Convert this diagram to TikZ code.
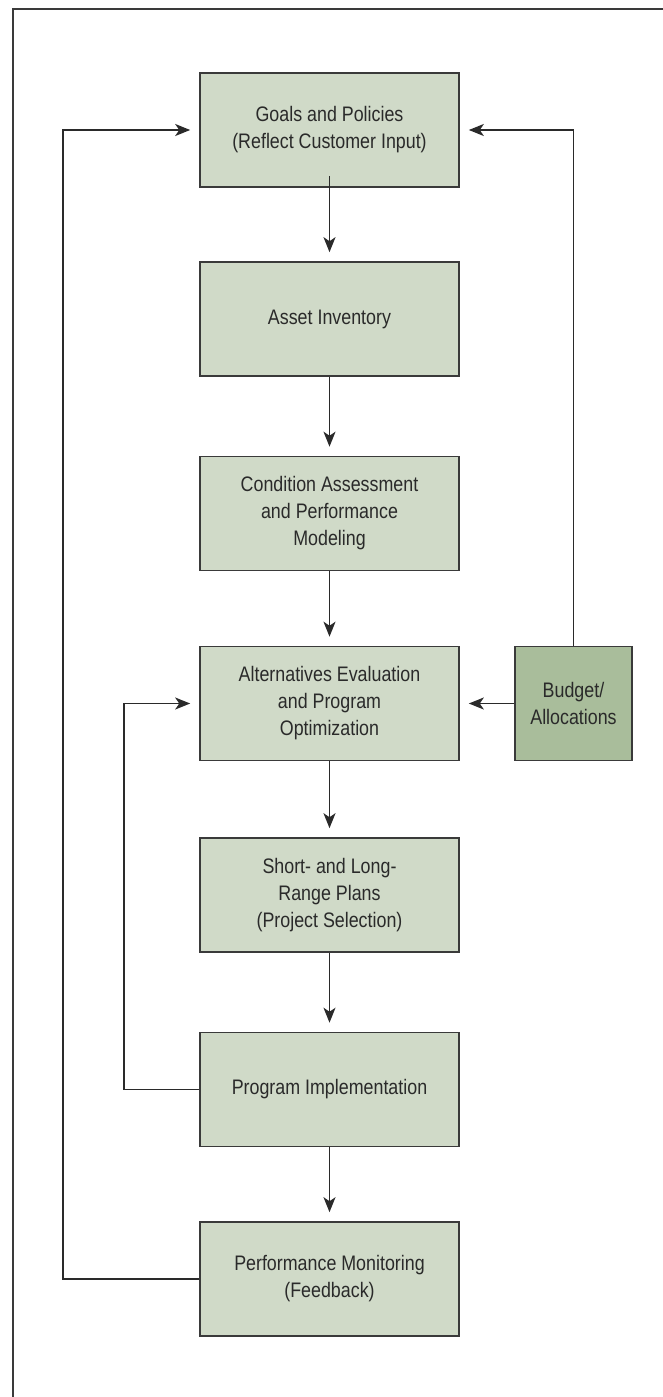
\documentclass[tikz,border=0pt]{standalone}
\usepackage{fontspec}
\setmainfont[FakeStretch=0.85]{Liberation Sans}
\usetikzlibrary{arrows.meta}
\definecolor{boxfill}{HTML}{D0DAC8}
\definecolor{budgetfill}{HTML}{A9BD9B}
\definecolor{edge}{HTML}{3A3A3A}
\definecolor{ink}{HTML}{2A2A2A}
\tikzset{
  stage/.style={draw=edge, line width=1.6pt, fill=boxfill, text=ink,
    minimum width=259pt, minimum height=114pt, align=center,
    font=\fontsize{21}{27}\selectfont, inner sep=0pt},
  budgetbox/.style={stage, fill=budgetfill, minimum width=117pt},
  flow/.style={draw=ink, line width=1.5pt,
    -{Stealth[length=15pt,width=12pt,inset=4pt]}, shorten >=9pt},
  frameline/.style={draw=edge, line width=1.2pt}
}
\begin{document}
\begin{tikzpicture}[x=1pt, y=-1pt]
\useasboundingbox (0,0) rectangle (663,1397);
% open frame: only the top and left edges fall inside the page
\draw[frameline] (13,1397) -- (13,9) -- (663,9);

\node[stage] (goals) at (329.5,130) {Goals and Policies\\(Reflect Customer Input)};
\node[stage] (asset) at (329.5,319) {Asset Inventory};
\node[stage] (cond) at (329.5,513.5) {Condition Assessment\\and Performance\\Modeling};
\node[stage] (alt) at (329.5,703.5) {Alternatives Evaluation\\and Program\\Optimization};
\node[budgetbox] (budget) at (573.5,703.5) {Budget/\\Allocations};
\node[stage] (plans) at (329.5,895) {Short- and Long-\\Range Plans\\(Project Selection)};
\node[stage] (impl) at (329.5,1089.5) {Program Implementation};
\node[stage] (mon) at (329.5,1279) {Performance Monitoring\\(Feedback)};

\coordinate (outer) at (63,0);
\coordinate (inner) at (124,0);

% main chain
\draw[flow] ([yshift=12pt]goals.south) -- (asset);
\draw[flow] (asset) -- (cond);
\draw[flow] (cond) -- (alt);
\draw[flow] (alt) -- (plans);
\draw[flow] (plans) -- (impl);
\draw[flow] (impl) -- (mon);

% budget inputs
\draw[flow] (budget.west) -- (alt.east);
\draw[flow] (budget.north) -- (budget.north |- goals.east) -- (goals.east);

% feedback loops
\draw[flow] (mon.west) -- (mon.west -| outer) -- (goals.west -| outer) -- (goals.west);
\draw[flow] (impl.west) -- (impl.west -| inner) -- (alt.west -| inner) -- (alt.west);
\end{tikzpicture}
\end{document}
